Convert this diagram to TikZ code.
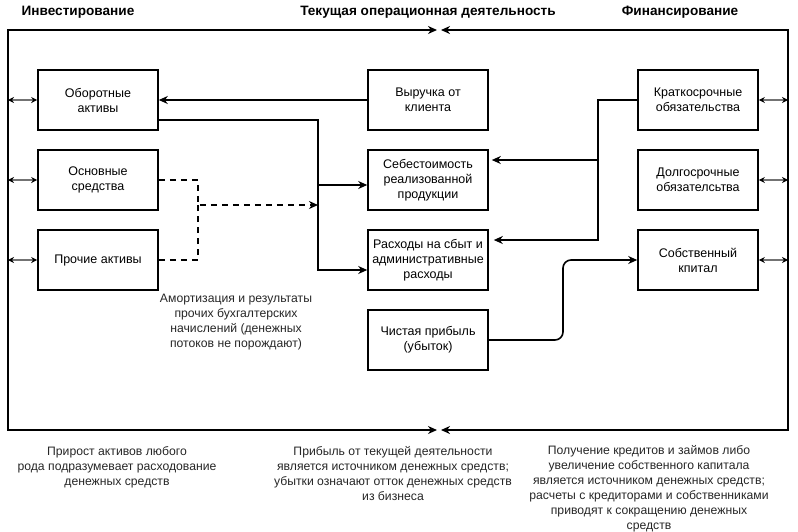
\documentclass[tikz,border=0pt]{standalone}
\usepackage{fontspec}
\setmainfont{Liberation Sans}
\usepackage{xcolor}
\usetikzlibrary{arrows.meta}

\newcommand\boxfont{\fontsize{12.5}{15}\selectfont}
\newcommand\notefont{\fontsize{12.2}{15}\selectfont}
\newcommand\headfont{\fontsize{13.6}{16}\selectfont}

\tikzset{
	box/.style={draw, line width=1.6pt, minimum width=120pt, minimum height=60pt, inner sep=1pt, align=center, font=\boxfont},
	note/.style={align=center, font=\notefont, text=black!85},
	head/.style={font=\headfont\bfseries},
	flow/.style={line width=1.6pt, -{Stealth[length=9pt,width=8pt]}},
	dflow/.style={line width=1.6pt, dash pattern=on 6pt off 5pt, -{Stealth[length=9pt,width=8pt]}},
	dline/.style={line width=1.6pt, dash pattern=on 6pt off 5pt},
	side/.style={line width=1.4pt, draw=black!55, {Stealth[length=6pt,width=6pt,black]}-{Stealth[length=6pt,width=6pt,black]}}
}

\begin{document}
\begin{tikzpicture}[x=1pt,y=-1pt]
	\useasboundingbox (0,0) rectangle (798,531);
	
	% Рамка
	\coordinate (tl) at (8,30);
	\coordinate (bl) at (8,430);
	\coordinate (tr) at (788,30);
	\coordinate (br) at (788,430);
	\coordinate (tmL) at (437,30);
	\coordinate (tmR) at (441,30);
	\coordinate (bmL) at (437,430);
	\coordinate (bmR) at (441,430);
	\draw[line width=1.6pt, {Stealth[length=9pt,width=8pt]}-{Stealth[length=9pt,width=8pt]}] (tmL) -- (tl) -- (bl) -- (bmL);
	\draw[line width=1.6pt, {Stealth[length=9pt,width=8pt]}-{Stealth[length=9pt,width=8pt]}] (tmR) -- (tr) -- (br) -- (bmR);
	
	% Заголовки
	\node[head] (hinv) at (78,12) {Инвестирование};
	\node[head] (hop) at (428,12) {Текущая операционная деятельность};
	\node[head] (hfin) at (680,12) {Финансирование};
	
	% Инвестирование
	\node[box] (ob) at (98,100) {Оборотные\\активы};
	\node[box] (os) at (98,180) {Основные\\средства};
	\node[box] (pr) at (98,260) {Прочие активы};
	
	% Текущая деятельность
	\node[box] (vyr) at (428,100) {Выручка от\\клиента};
	\node[box] (seb) at (428,180) {Себестоимость\\реализованной\\продукции};
	\node[box] (ras) at (428,260) {Расходы на сбыт и\\административные\\расходы};
	\node[box] (ch) at (428,340) {Чистая прибыль\\(убыток)};
	
	% Финансирование
	\node[box] (kr) at (698,100) {Краткосрочные\\обязательства};
	\node[box] (dl) at (698,180) {Долгосрочные\\обязателсьтва};
	\node[box] (sob) at (698,260) {Собственный\\кпитал};
	
	% Боковые стрелки
	\foreach \n in {ob,os,pr} \draw[side] (\n.west -| tl) -- (\n.west);
	\foreach \n in {kr,dl,sob} \draw[side] (\n.east) -- (\n.east -| tr);
	
	% Связи
	\coordinate (j1) at (318,120);
	\coordinate (j2) at (198,205);
	\coordinate (j3) at (598,100);
	\coordinate (j4) at (563,350);
	
	\draw[flow] (vyr.west) -- (ob.east);
	\draw[flow] (ob.east |- j1) -- (j1) |- ([yshift=-5pt]seb.west);
	\draw[flow] (j1) |- ([yshift=-10pt]ras.west);
	
	\draw[dflow] (os.east) -| (j2) -- (j2 -| j1);
	\draw[dline] (pr.east) -| (j2);
	
	\draw[flow, shorten >=3pt] (kr.west) -- (j3) |- ([yshift=20pt]seb.east);
	\draw[flow, shorten >=5pt] (j3) |- ([yshift=20pt]ras.east);
	
	\draw[flow, rounded corners=8pt] (ch.east) -| (j4 |- sob.west) -- (sob.west);
	
	% Пояснения
	\node[note] (namort) at (236,322) {Амортизация и результаты\\прочих бухгалтерских\\начислений (денежных\\потоков не порождают)};
	\node[note] (ninv) at (117,467) {Прирост активов любого\\рода подразумевает расходование\\денежных средств};
	\node[note] (nop) at (393,474) {Прибыль от текущей деятельности\\является источником денежных средств;\\убытки означают отток денежных средств\\из бизнеса};
	\node[note] (nfin) at (649,489) {Получение кредитов и займов либо\\увеличение собственного капитала\\является источником денежных средств;\\расчеты с кредиторами и собственниками\\приводят к сокращению денежных\\средств};
\end{tikzpicture}
\end{document}
